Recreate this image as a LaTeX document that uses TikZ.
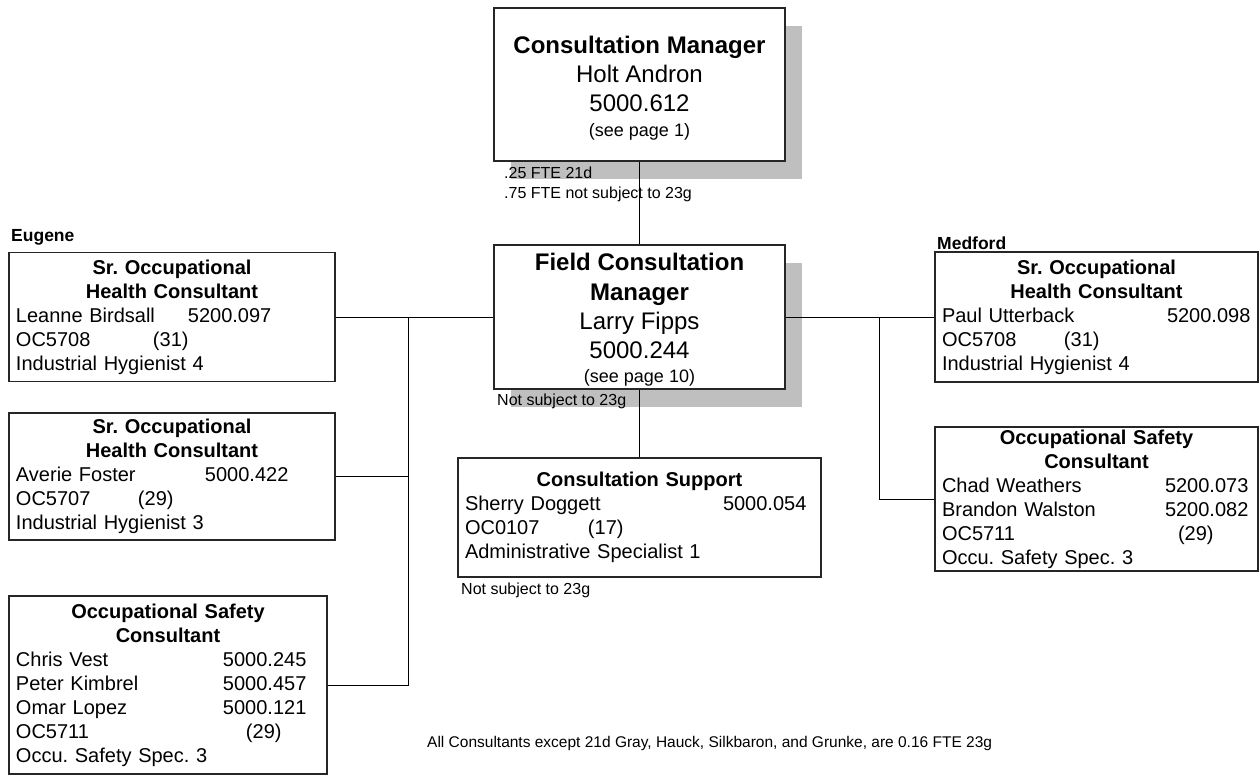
\documentclass[tikz,border=0pt]{standalone}
\usepackage{fontspec}
\setmainfont{Liberation Sans}
\usetikzlibrary{shadows}
\frenchspacing

\newcommand{\orgtitle}[1]{\makebox[\hsize]{\bfseries #1}}
\newcommand{\orgrow}[3]{\makebox[#1][l]{#2}#3}

\begin{document}
\begin{tikzpicture}[
  x=1pt, y=-1pt,
  head/.style = {
    draw=black!85,
    line width=1.2pt,
    shape=rectangle,
    fill=white,
    align=center,
    inner sep=0pt,
    font=\fontsize{24}{29}\selectfont,
    drop shadow={shadow xshift=17pt, shadow yshift=-18pt, fill=black!25, opacity=1}
  },
  post/.style = {
    draw=black!85,
    line width=1.2pt,
    shape=rectangle,
    fill=white,
    align=left,
    inner xsep=7pt,
    inner ysep=0pt,
    font=\fontsize{20}{24}\selectfont
  },
  note/.style = {anchor=west, inner sep=0pt, font=\fontsize{16}{20}\selectfont},
  city/.style = {anchor=west, inner sep=0pt, font=\fontsize{17.5}{20}\selectfont\bfseries},
  link/.style = {line width=0.9pt, black},
  %every node/.style = {draw=red},
]
  \useasboundingbox (0,0) rectangle (1259,776);

  \node (mgr)[
    head,
    minimum width=291pt,
    minimum height=153pt
  ] at (639.5,84.5) {\rule{0pt}{24pt}{\bfseries Consultation Manager}\\Holt Andron\\5000.612\\[-4pt]
    {\fontsize{18}{22}\selectfont (see page 1)}};
  \node (field)[
    head,
    minimum width=291pt,
    minimum height=144pt
  ] at (639.5,317) {\rule{0pt}{22pt}{\bfseries Field Consultation}\\[1pt]{\bfseries Manager}\\Larry Fipps\\5000.244\\[-5pt]
    {\fontsize{18}{22}\selectfont (see page 10)}};
  \node (support)[
    post,
    text width=349pt,
    minimum height=119pt
  ] at (639.5,517.5) {\orgtitle{Consultation Support}\\
    \orgrow{258pt}{Sherry Doggett}{5000.054}\\
    \orgrow{123pt}{OC0107}{(17)}\\
    Administrative Specialist 1};

  % Eugene
  \node (hyg1)[
    post,
    text width=312pt,
    minimum height=129pt
  ] at (172,317) {\orgtitle{Sr. Occupational}\\
    \orgtitle{Health Consultant}\\
    \orgrow{172pt}{Leanne Birdsall}{5200.097}\\
    \orgrow{137pt}{OC5708}{(31)}\\
    Industrial Hygienist 4};
  \node (hyg2)[
    post,
    text width=312pt,
    minimum height=127pt
  ] at (172,476.5) {\orgtitle{Sr. Occupational}\\
    \orgtitle{Health Consultant}\\
    \orgrow{189pt}{Averie Foster}{5000.422}\\
    \orgrow{122pt}{OC5707}{(29)}\\
    Industrial Hygienist 3};
  \node (safe1)[
    post,
    text width=304pt,
    minimum height=178pt
  ] at (168,685) {\orgtitle{Occupational Safety}\\
    \orgtitle{Consultant}\\
    \orgrow{207pt}{Chris Vest}{5000.245}\\
    \orgrow{207pt}{Peter Kimbrel}{5000.457}\\
    \orgrow{207pt}{Omar Lopez}{5000.121}\\
    \orgrow{230pt}{OC5711}{(29)}\\
    Occu. Safety Spec. 3};

  % Medford
  \node (hyg3)[
    post,
    text width=309pt,
    minimum height=130pt
  ] at (1096.5,317) {\orgtitle{Sr. Occupational}\\
    \orgtitle{Health Consultant}\\
    \orgrow{225pt}{Paul Utterback}{5200.098}\\
    \orgrow{122pt}{OC5708}{(31)}\\
    Industrial Hygienist 4};
  \node (safe2)[
    post,
    text width=309pt,
    minimum height=144pt
  ] at (1096.5,499) {\orgtitle{Occupational Safety}\\
    \orgtitle{Consultant}\\
    \orgrow{223pt}{Chad Weathers}{5200.073}\\
    \orgrow{223pt}{Brandon Walston}{5200.082}\\
    \orgrow{236pt}{OC5711}{(29)}\\
    Occu. Safety Spec. 3};

  \node (eugene)[city] at (11,237) {Eugene};
  \node (medford)[city] at (937,243) {Medford};

  \node (mgrnote)[note, anchor=north west, align=left] at (504,167)
    {.25 FTE 21d\\.75 FTE not subject to 23g};
  \node (fieldnote)[note] at (497,401) {Not subject to 23g};
  \node (supportnote)[note] at (461,590) {Not subject to 23g};
  \node (footer)[note, font=\fontsize{15.5}{20}\selectfont] at (427,743)
    {All Consultants except 21d Gray, Hauck, Silkbaron, and Grunke, are 0.16 FTE 23g};

  \coordinate (westbus) at (408,317);
  \coordinate (eastbus) at (879,317);

  \draw[link] (mgr)   -- (field);
  \draw[link] (field) -- (support);
  \draw[link] (field.west) -- (hyg1.east);
  \draw[link] (westbus) |- (hyg2.east);
  \draw[link] (westbus) |- (safe1.east);
  \draw[link] (field.east) -- (hyg3.west);
  \draw[link] (eastbus) |- (safe2.west);
\end{tikzpicture}
\end{document}
